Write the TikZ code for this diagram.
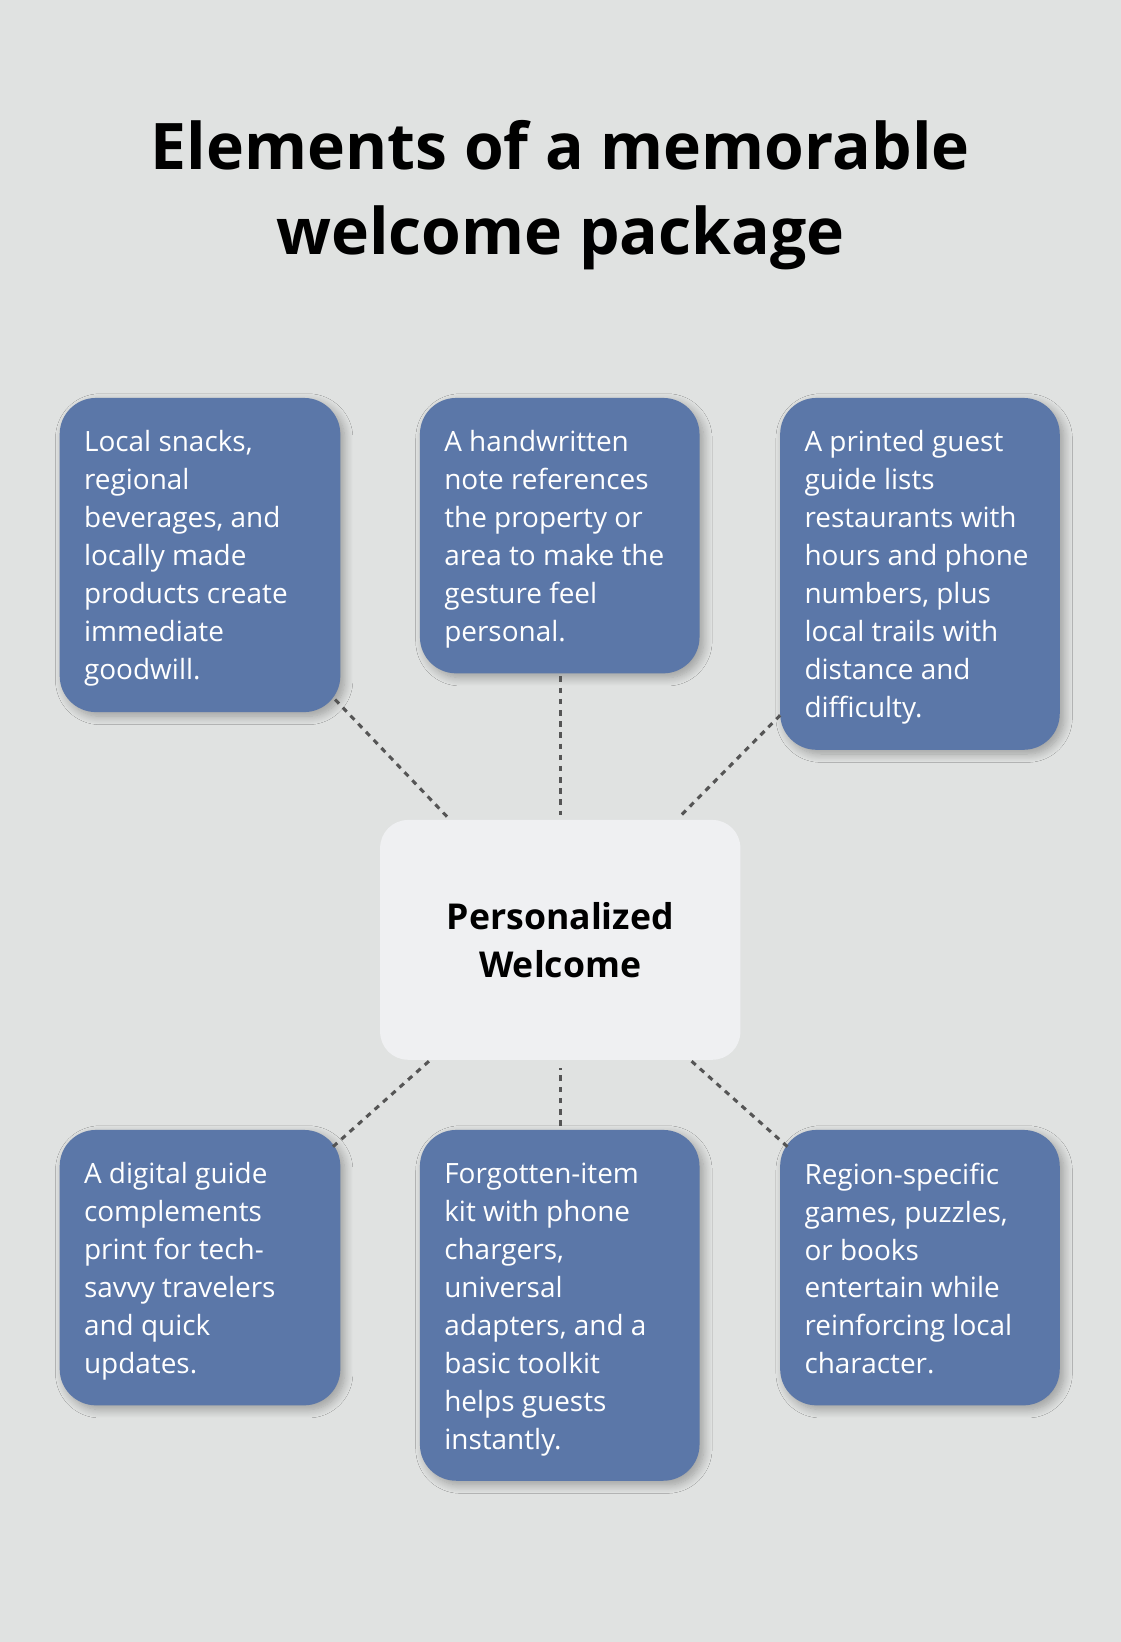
\documentclass[tikz,border=0pt]{standalone}
\usepackage{fontspec}
\setmainfont{Open Sans}
\usetikzlibrary{shadows.blur}
\definecolor{bg}{HTML}{E0E2E1}
\definecolor{boxc}{HTML}{5B77A8}
\definecolor{ctr}{HTML}{EFF0F2}
\definecolor{dash}{HTML}{555555}
\begin{document}
\begin{tikzpicture}[x=0.75pt,y=-0.75pt,
  card/.style={fill=boxc,draw=none,rounded corners=26pt,blur shadow={shadow xshift=3pt,shadow yshift=-3pt,shadow blur radius=6pt,shadow blur steps=10,shadow opacity=30}},
  txt/.style={anchor=north west,inner sep=0pt,align=left,text=white,font=\fontsize{20}{27.2}\selectfont},
  con/.style={draw=dash,line width=2.2pt,dash pattern=on 4pt off 4pt}]
\fill[bg] (0,0) rectangle (1070,1568);
\useasboundingbox (0,0) rectangle (1070,1568);
\node (title) at (535,186) [align=center,font=\fontsize{46}{61}\selectfont\bfseries] {Elements of a memorable\\welcome package};
% cards
\path[card] (57,380) rectangle (325,680);
\path[card] (401,380) rectangle (668,643);
\path[card] (745,380) rectangle (1012,716);
\path[card] (57,1079) rectangle (325,1342);
\path[card] (401,1079) rectangle (668,1414);
\path[card] (745,1079) rectangle (1012,1342);
\path[fill=ctr,rounded corners=20pt] (363,783) rectangle (707,1012);
\node (c) at (535,898) [align=center,font=\fontsize{25.5}{34.5}\selectfont\bfseries] {Personalized\\Welcome};
\node (t1) at (80,411) [txt] {Local snacks,\\regional\\beverages, and\\locally made\\products create\\immediate\\goodwill.};
\node (t2) at (424,411) [txt] {A handwritten\\note references\\the property or\\area to make the\\gesture feel\\personal.};
\node (t3) at (768,411) [txt] {A printed guest\\guide lists\\restaurants with\\hours and phone\\numbers, plus\\local trails with\\distance and\\difficulty.};
\node (t4) at (80,1110) [txt] {A digital guide\\complements\\print for tech-\\savvy travelers\\and quick\\updates.};
\node (t5) at (424,1110) [txt] {Forgotten-item\\kit with phone\\chargers,\\universal\\adapters, and a\\basic toolkit\\helps guests\\instantly.};
\node (t6) at (768,1110) [txt] {Region-specific\\games, puzzles,\\or books\\entertain while\\reinforcing local\\character.};
% connectors
\coordinate (a1) at (320,668); \coordinate (b1) at (428,781);
\coordinate (a2) at (535,646); \coordinate (b2) at (535,778);
\coordinate (a3) at (745,683); \coordinate (b3) at (648,781);
\coordinate (a4) at (318,1095); \coordinate (b4) at (410,1013);
\coordinate (a5) at (535,1075); \coordinate (b5) at (535,1020);
\coordinate (a6) at (752,1095); \coordinate (b6) at (660,1013);
\foreach \i in {1,...,6} \draw[con] (a\i) -- (b\i);
\end{tikzpicture}
\end{document}
